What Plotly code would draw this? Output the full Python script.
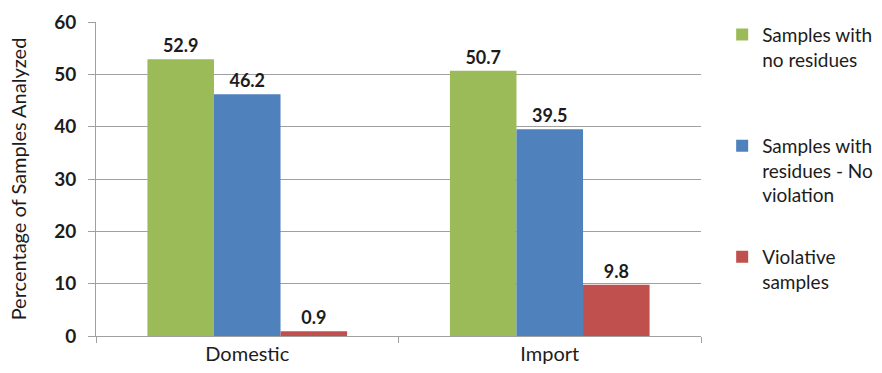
import plotly.graph_objects as go

categories = ["Domestic", "Import"]
series_names = ["Samples with<br>no residues<br> ", "Samples with<br>residues - No<br>violation", "Violative<br>samples"]
no_residues = [52.9, 50.7]
residues_no_violation = [46.2, 39.5]
violative = [0.9, 9.8]
colors = ["#9BBB59", "#4F81BD", "#C0504D"]

FONT = "Lato, 'Open Sans', sans-serif"
TXT = "#1c1c1c"

fig = go.Figure()
for i, (name, vals) in enumerate(zip(series_names, [no_residues, residues_no_violation, violative])):
    fig.add_trace(go.Bar(
        x=categories, y=vals, name=name, marker_color=colors[i],
        marker_line_width=0,
        text=[f"{v:.1f}" for v in vals], textposition="outside",
        textfont=dict(family=FONT, size=18, color=TXT, weight="bold"),
        cliponaxis=False, legendgroup=f"g{i}",
    ))

fig.update_layout(
    width=882, height=373,
    margin=dict(l=96, r=181, t=22, b=37, autoexpand=False),
    paper_bgcolor="white", plot_bgcolor="white",
    barmode="group", bargap=0.34, bargroupgap=0,
    font=dict(family=FONT, size=18, color=TXT),
    legend=dict(x=1.035, y=1.02, xanchor="left", yanchor="top", valign="top",
                tracegroupgap=34, itemwidth=30, maxheight=373,
                font=dict(family=FONT, size=19, color=TXT)),
    xaxis=dict(showline=True, linecolor="#a0a0a0", linewidth=1,
               ticks="outside", tickson="boundaries", ticklen=6, tickcolor="#a0a0a0",
               tickfont=dict(family=FONT, size=20, color=TXT)),
    yaxis=dict(range=[0, 60], dtick=10, showgrid=True, gridcolor="#a0a0a0",
               showline=True, linecolor="#a0a0a0", zeroline=False,
               ticks="outside", ticklen=7, tickcolor="#a0a0a0",
               ticklabelstandoff=8,
               tickfont=dict(family=FONT, size=19, color=TXT, weight="bold"),
               title=dict(text="Percentage of Samples Analyzed", standoff=22,
                          font=dict(family=FONT, size=20, color=TXT))),
)

fig.write_html("out.html")
